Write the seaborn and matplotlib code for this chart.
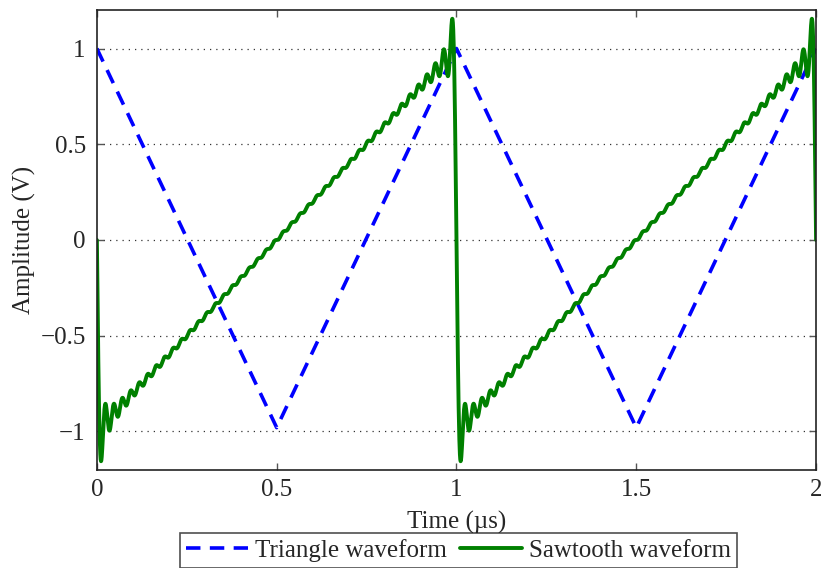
import numpy as np
import pandas as pd
import matplotlib
matplotlib.use("Agg")
import matplotlib.pyplot as plt
import seaborn as sns

# Triangle waveform vertices (time in µs, amplitude in V)
tri_t = [0.0, 0.5, 1.0, 1.5, 2.0]
tri_v = [1.0, -0.98, 1.0, -0.98, 1.0]

# Sawtooth waveform: Fourier partial sum read from the ripple count
saw_harmonics = 42          # number of harmonics (≈ ripples per period)
saw_periods = 2.0           # time span in µs (period 1 µs)
saw_samples = 4001

t = np.linspace(0, saw_periods, saw_samples)
k = np.arange(1, saw_harmonics + 1)
saw = -(2 / np.pi) * np.sum(np.sin(2 * np.pi * np.outer(k, t)) / k[:, None], axis=0)

df_tri = pd.DataFrame({"t": tri_t, "v": tri_v})
df_saw = pd.DataFrame({"t": t, "v": saw})

sns.set_style("ticks")
plt.rcParams["font.family"] = ["Liberation Serif", "DejaVu Serif"]

FS = 18

fig = plt.figure(figsize=(8.21, 5.68), dpi=100)
ax = fig.add_axes([0.118, 0.173, 0.876, 0.809])

sns.lineplot(data=df_tri, x="t", y="v", ax=ax, color="#0000ff", lw=2.6,
             linestyle=(0, (4, 2.6)), label="Triangle waveform", sort=False)
sns.lineplot(data=df_saw, x="t", y="v", ax=ax, color="#008000", lw=2.8,
             label="Sawtooth waveform", sort=False)

ax.set_xlim(0, 2)
ax.set_ylim(-1.2, 1.2)
ax.set_xticks([0, 0.5, 1, 1.5, 2])
ax.set_xticklabels(["0", "0.5", "1", "1.5", "2"])
ax.set_yticks([-1, -0.5, 0, 0.5, 1])
ax.set_yticklabels(["\u22121", "\u22120.5", "0", "0.5", "1"])
ax.tick_params(direction="in", top=True, right=True, labelsize=FS, length=5,
               width=1, color="#555555")
ax.tick_params(axis="y", pad=8)
ax.tick_params(axis="x", pad=7)
for s in ax.spines.values():
    s.set_linewidth(1.2)
    s.set_color("#222222")
ax.yaxis.grid(True, linestyle=(0, (1, 4)), color="#333333", lw=0.9)
ax.set_xlabel("Time (\u00b5s)", fontsize=FS, labelpad=7)
ax.set_ylabel("Amplitude (V)", fontsize=FS, labelpad=3)
ax.get_legend().remove()

h, l = ax.get_legend_handles_labels()
leg = fig.legend(h, l, loc="upper center", bbox_to_anchor=(0.5585, 0.0625), ncol=2,
                 fontsize=FS, frameon=True, fancybox=False, edgecolor="#222222",
                 handlelength=2.5, handletextpad=0.28, columnspacing=0.5,
                 borderpad=0.25, borderaxespad=0)
leg.get_frame().set_linewidth(1.2)

fig.savefig("out.png", dpi=100)
